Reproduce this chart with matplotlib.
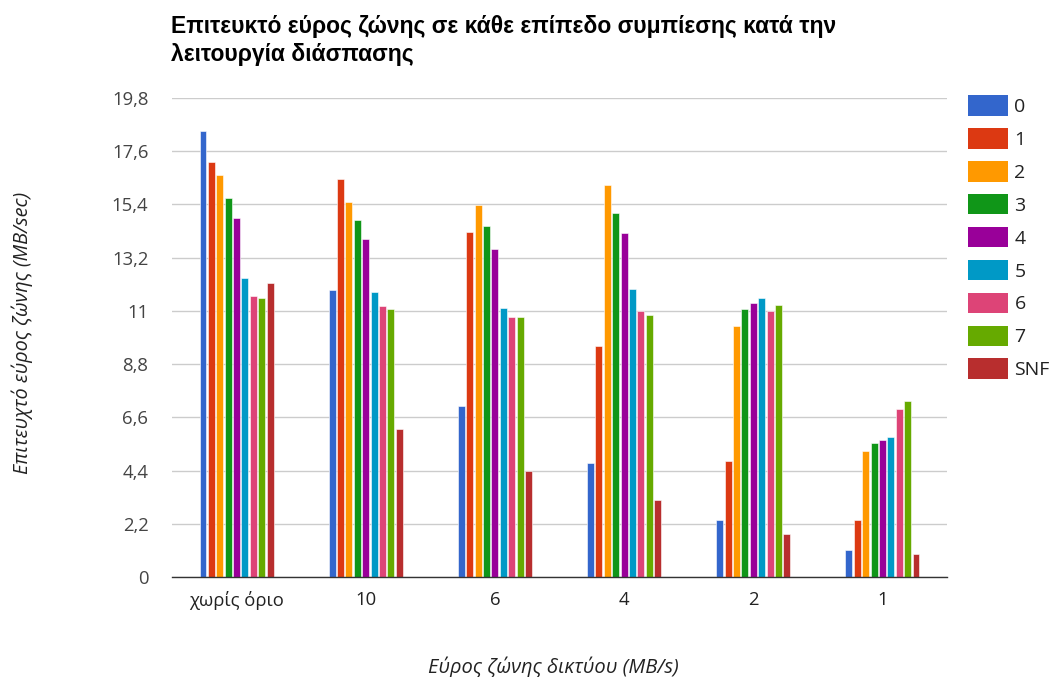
import matplotlib
matplotlib.use("Agg")
import matplotlib.pyplot as plt
import numpy as np
from matplotlib.patches import Patch

plt.rcParams['font.family'] = ['Open Sans', 'DejaVu Sans']

categories = ["χωρίς όριο", "10", "6", "4", "2", "1"]
series_names = ["0", "1", "2", "3", "4", "5", "6", "7", "SNF"]
values = {
    "0":   [18.45, 11.85, 7.08, 4.72, 2.35, 1.13],
    "1":   [17.16, 16.45, 14.26, 9.54, 4.79, 2.35],
    "2":   [16.62, 15.50, 15.38, 16.19, 10.38, 5.19],
    "3":   [15.68, 14.75, 14.50, 15.04, 11.08, 5.55],
    "4":   [14.86, 13.98, 13.56, 14.21, 11.33, 5.66],
    "5":   [12.38, 11.79, 11.14, 11.90, 11.55, 5.78],
    "6":   [11.61, 11.19, 10.74, 11.01, 11.01, 6.95],
    "7":   [11.55, 11.08, 10.74, 10.84, 11.26, 7.26],
    "SNF": [12.16, 6.13, 4.38, 3.18, 1.78, 0.95],
}
colors = ["#3366cc", "#dc3912", "#ff9900", "#109618", "#990099",
          "#0099c6", "#dd4477", "#66aa00", "#b82e2e"]
yticks = [0, 2.2, 4.4, 6.6, 8.8, 11, 13.2, 15.4, 17.6, 19.8]
ytick_labels = ["0", "2,2", "4,4", "6,6", "8,8", "11", "13,2", "15,4", "17,6", "19,8"]

W, H = 1053, 677
fig = plt.figure(figsize=(W / 100, H / 100), dpi=100)
ax = fig.add_axes([172 / W, 1 - 577 / H, (947 - 172) / W, (577 - 98) / H])

x = np.arange(len(categories))
slot = 0.065
bar_w = 0.054
n = len(series_names)
for i, name in enumerate(series_names):
    offs = (i - (n - 1) / 2) * slot
    ax.bar(x + offs, values[name], width=bar_w, color=colors[i],
           edgecolor="white", linewidth=0.4, zorder=3)

ax.set_xlim(-0.5, len(categories) - 0.5)
ax.set_ylim(0, 19.8)
ax.set_yticks(yticks)
ax.set_yticklabels(ytick_labels)
ax.set_xticks(x)
ax.set_xticklabels(categories)
ax.tick_params(axis="y", length=0, pad=17, labelsize=13.3, labelcolor="#444444")
ax.tick_params(axis="x", length=0, pad=10, labelsize=13.3, labelcolor="#222222")
ax.grid(axis="y", color="#cccccc", linewidth=1, zorder=0)
for s in ["left", "right", "top"]:
    ax.spines[s].set_visible(False)
ax.spines["bottom"].set_color("#333333")
ax.spines["bottom"].set_linewidth(1)
ax.spines["bottom"].set_zorder(4)

fig.text(553 / W, 1 - 667 / H, "Εύρος ζώνης δικτύου (MB/s)", fontsize=14.5,
         style="italic", color="#222222", ha="center", va="center")
fig.text(22 / W, 1 - 333 / H, "Επιτευχτό εύρος ζώνης (MB/sec)", rotation=90,
         fontsize=14.3, style="italic", color="#222222", ha="center", va="center")

title_font = dict(fontsize=16.5, fontweight="bold", color="#000000",
                  ha="left", va="baseline", family=["Liberation Sans", "DejaVu Sans"])
fig.text(171 / W, 1 - 33 / H,
         "Επιτευκτό εύρος ζώνης σε κάθε επίπεδο συμπίεσης κατά την", **title_font)
fig.text(171 / W, 1 - 61 / H, "λειτουργία διάσπασης", **title_font)

handles = [Patch(facecolor=c, edgecolor="none") for c in colors]
fig.legend(handles, series_names, loc="upper left",
           bbox_to_anchor=(968 / W, 1 - 95 / H), frameon=False, fontsize=14,
           handlelength=2.06, handleheight=1.26, labelspacing=0.62,
           handletextpad=0.33, borderaxespad=0, borderpad=0,
           labelcolor="#222222")

fig.savefig("out.png", dpi=100, facecolor="white")
